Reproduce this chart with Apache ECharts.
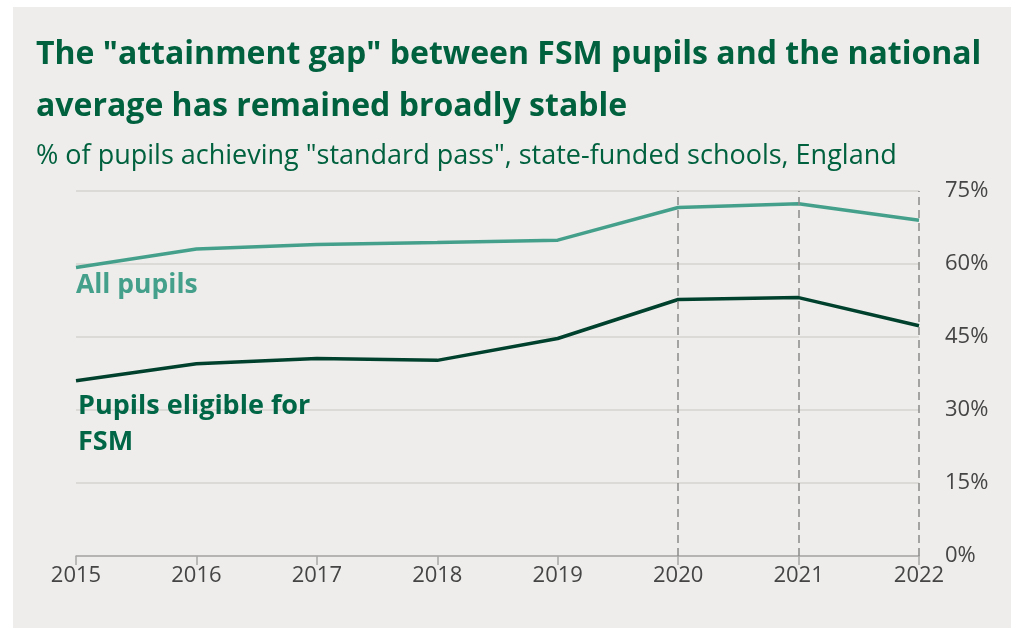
<!DOCTYPE html>
<html>
<head>
<meta charset="utf-8">
<script src="https://cdn.jsdelivr.net/npm/echarts@6/dist/echarts.min.js"></script>
<style>
  html, body { margin: 0; padding: 0; background: #ffffff; }
  #panel { position: absolute; left: 13px; top: 7px; width: 998px; height: 621px; background: #eeedeb; }
  #chart { position: absolute; left: 0; top: 0; width: 1016px; height: 630px; }
</style>
</head>
<body>
<div id="panel"></div>
<div id="chart"></div>
<script>
// Share of pupils achieving a "standard pass", state-funded schools, England
const years = ['2015', '2016', '2017', '2018', '2019', '2020', '2021', '2022'];
const allPupils = [59.3, 63.1, 64.0, 64.4, 64.9, 71.6, 72.4, 69.0];
const fsmPupils = [36.0, 39.5, 40.6, 40.2, 44.7, 52.7, 53.1, 47.3];
const yTicks = [0, 15, 30, 45, 60, 75];
const highlightedYears = ['2020', '2021', '2022'];

const titleText = 'The "attainment gap" between FSM pupils and the national\naverage has remained broadly stable';
const subtitleText = '% of pupils achieving "standard pass", state-funded schools, England';

const green = '#00613e';
const teal = '#45a08b';
const dark = '#00412d';

const chart = echarts.init(document.getElementById('chart'), null, { renderer: 'canvas' });

chart.setOption({
  backgroundColor: 'transparent',
  animation: false,
  title: [
    {
      text: titleText,
      left: 31,
      top: 24,
      textStyle: { fontFamily: 'Open Sans', fontWeight: 'bold', fontSize: 32, lineHeight: 52, color: green }
    },
    {
      text: subtitleText,
      left: 31,
      top: 136,
      textStyle: { fontFamily: 'Open Sans', fontWeight: 'normal', fontSize: 27, lineHeight: 30, color: green }
    }
  ],
  grid: { left: 76, right: 97, top: 191, bottom: 74, containLabel: false },
  xAxis: {
    type: 'category',
    data: years,
    boundaryGap: false,
    axisLine: { show: true, lineStyle: { color: '#a8a8a8', width: 1.5 } },
    axisTick: { show: true, length: 9, lineStyle: { color: '#a8a8a8', width: 1.5 } },
    axisLabel: { color: '#454545', fontFamily: 'Open Sans', fontSize: 22, margin: 9 },
    splitLine: { show: false }
  },
  yAxis: {
    type: 'value',
    position: 'right',
    min: yTicks[0],
    max: yTicks[yTicks.length - 1],
    interval: yTicks[1] - yTicks[0],
    axisLine: { show: false },
    axisTick: { show: false },
    axisLabel: {
      color: '#454545', fontFamily: 'Open Sans', fontSize: 22, margin: 26,
      formatter: v => v + '%'
    },
    splitLine: { show: true, lineStyle: { color: '#dcdad7', width: 2 } }
  },
  series: [
    {
      name: 'All pupils',
      type: 'line',
      data: allPupils,
      showSymbol: false,
      lineStyle: { color: teal, width: 3.5 },
      z: 3,
      markLine: {
        silent: true,
        symbol: 'none',
        label: { show: false },
        lineStyle: { color: '#8a8a8a', width: 1.5, type: [8, 5] },
        data: highlightedYears.map(y => ({ xAxis: y }))
      }
    },
    {
      name: 'Pupils eligible for FSM',
      type: 'line',
      data: fsmPupils,
      showSymbol: false,
      lineStyle: { color: dark, width: 3.5 },
      z: 3
    }
  ],
  graphic: [
    {
      type: 'text',
      left: 76,
      top: 272,
      z: 100,
      style: { text: 'All pupils', fill: teal, font: 'bold 26.5px "Open Sans"' }
    },
    {
      type: 'text',
      left: 78,
      top: 388,
      z: 100,
      style: { text: 'Pupils eligible for\nFSM', fill: '#006646', font: 'bold 27px "Open Sans"', lineHeight: 36 }
    }
  ]
});
</script>
</body>
</html>
